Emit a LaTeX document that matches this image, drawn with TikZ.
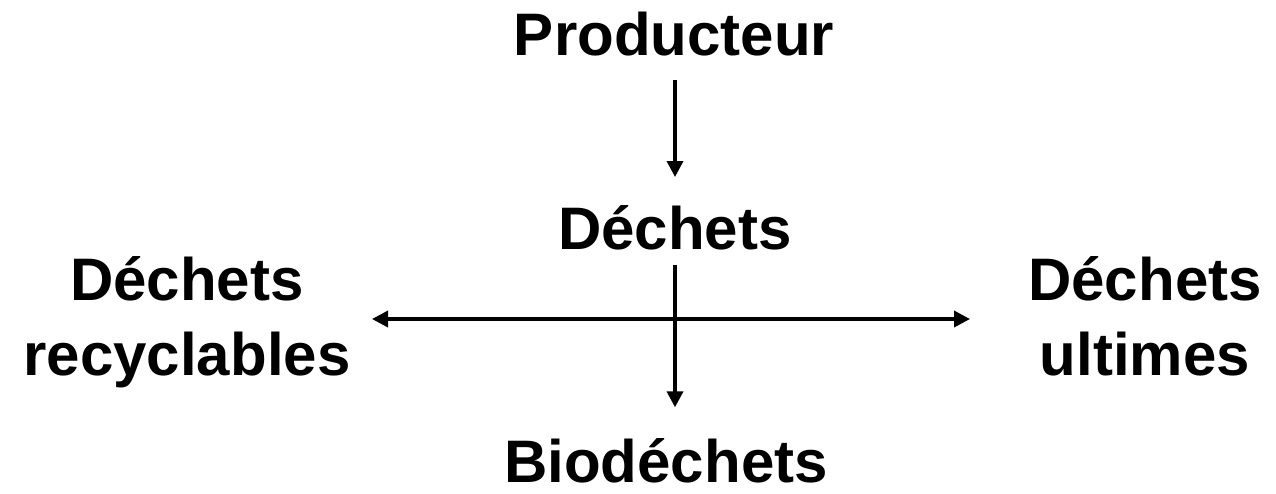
\documentclass[tikz,border=0pt]{standalone}
\usepackage{fontspec}
\setmainfont{Liberation Sans}
\usepackage{tikz}
\usetikzlibrary{arrows.meta}

\begin{document}
\begin{tikzpicture}[x=0.75pt,y=-0.75pt,
    lbl/.style={inner sep=0pt,anchor=base,align=center,font=\fontsize{45}{56}\selectfont\bfseries},
    arr/.style={line width=2.6pt,-{Triangle[length=12pt,width=12pt]}},
    dblarr/.style={line width=2.6pt,{Triangle[length=12pt,width=12pt]}-{Triangle[length=12pt,width=12pt]}}]
                \useasboundingbox (0,0) rectangle (1276,493);
                \node[lbl] (prod) at (674,55) {Producteur};
                \node[lbl] (dech) at (675,249) {Déchets};
                \node[lbl] (recy) at (187,375) {Déchets\\recyclables};
                \node[lbl] (ulti) at (1145,375) {Déchets\\ultimes};
                \node[lbl] (bio) at (666,482) {Biodéchets};
                \coordinate (hl) at (372,319);
                \coordinate (hr) at (970,319);
                \draw[arr] ([yshift=-18.75pt]prod.base -| dech) -- ([yshift=54pt]dech.base);
                \draw[arr] ([yshift=-12pt]dech.base) -- ([yshift=56pt]dech.base |- bio.base);
                \draw[dblarr] (hl) -- (hr);
            \end{tikzpicture}
\end{document}
